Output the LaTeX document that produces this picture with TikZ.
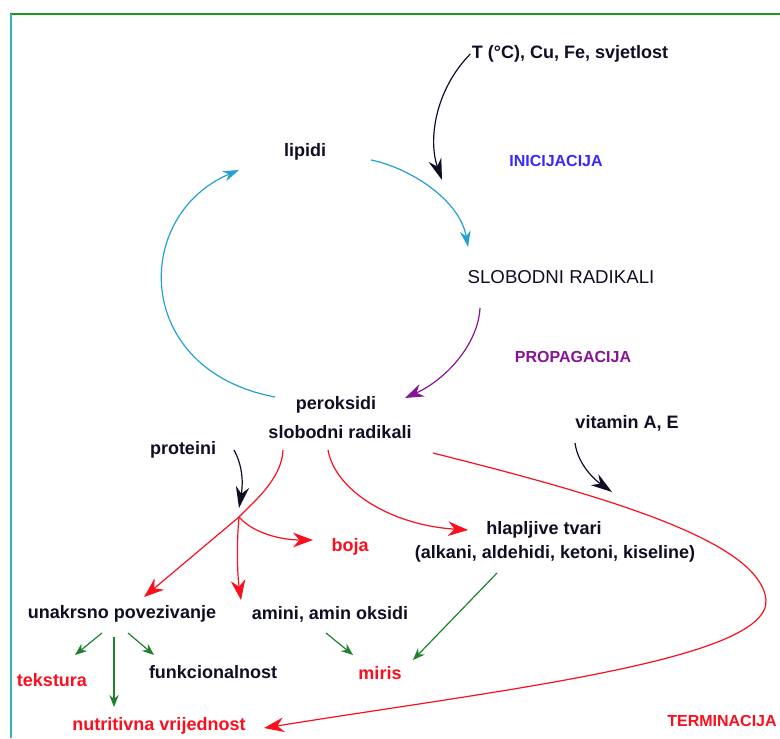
\documentclass[tikz,border=0pt]{standalone}
\usepackage{fontspec}
\setmainfont{Liberation Sans}
\usetikzlibrary{arrows.meta}

\definecolor{ink}{RGB}{15,15,35}
\definecolor{cred}{RGB}{250,15,30}
\definecolor{ccyc}{RGB}{35,160,210}
\definecolor{cpurp}{RGB}{135,20,150}
\definecolor{cblue}{RGB}{55,40,255}
\definecolor{cgreen}{RGB}{30,130,45}
\definecolor{frgreen}{RGB}{30,155,30}
\definecolor{frteal}{RGB}{50,180,180}

\tikzset{
  txt/.style={font=\bfseries\fontsize{13.5}{16}\selectfont, text=ink, inner sep=1pt},
  rtxt/.style={txt, text=cred},
  phase/.style={font=\bfseries\fontsize{12}{14}\selectfont, inner sep=1pt},
  blk/.style={line width=0.9pt, ink, -{Stealth[length=16pt,width=10pt]}},
  cyc/.style={line width=0.9pt, ccyc, -{Stealth[length=12pt,width=8pt]}},
  prp/.style={line width=0.9pt, cpurp, -{Stealth[length=14pt,width=10pt]}},
  red/.style={line width=0.9pt, cred, -{Stealth[length=15pt,width=11pt]}},
  grn/.style={line width=0.9pt, cgreen, -{Stealth[length=9pt,width=7pt]}}
}

\begin{document}
\begin{tikzpicture}[x=0.75pt, y=-0.75pt]
    \useasboundingbox (0,0) rectangle (780,738);
    \draw[line width=1.5pt, frgreen] (10,14.5) -- (780,14.5);
    \draw[line width=1.5pt, frteal] (10.5,14) -- (10.5,738);

    \node[txt] (temp) at (570, 54) {T (°C), Cu, Fe, svjetlost};
    \node[txt] (lipidi) at (305, 152) {lipidi};
    \node[phase, text=cblue] (inic) at (556, 161) {INICIJACIJA};
    \node[font=\fontsize{14}{16}\selectfont, text=ink, inner sep=1pt] (slobrad) at (561, 277) {SLOBODNI RADIKALI};
    \node[phase, text=cpurp] (propag) at (573, 357) {PROPAGACIJA};
    \node[txt] (perok) at (336, 405) {peroksidi};
    \node[txt] (radikali) at (340, 432) {slobodni radikali};
    \node[txt] (vitamin) at (627, 423) {vitamin A, E};
    \node[txt] (proteini) at (183, 450) {proteini};
    \node[rtxt] (boja) at (350, 547) {boja};
    \node[txt] (hlap) at (544, 530) {hlapljive tvari};
    \node[txt] (alk) at (555, 554) {(alkani, aldehidi, ketoni, kiseline)};
    \node[txt] (unak) at (122, 614) {unakrsno povezivanje};
    \node[txt] (amini) at (330, 614) {amini, amin oksidi};
    \node[rtxt] (tekstura) at (52, 680) {tekstura};
    \node[txt] (funkc) at (213, 672) {funkcionalnost};
    \node[rtxt] (miris) at (380, 673) {miris};
    \node[rtxt] (nutri) at (159, 726) {nutritivna vrijednost};
    \node[phase, text=cred] (termin) at (722, 721) {TERMINACIJA};

    \coordinate (initTip) at (442, 180);
    \coordinate (junc) at (239, 517);
    \coordinate (vitTip) at (612, 492);

    \draw[blk] (temp.west) .. controls (435, 90) and (428, 140) .. (initTip);
    \draw[cyc] ([shift={(66,8)}]lipidi.center) .. controls (410, 168) and (460, 200) .. ([shift={(-93,-30)}]slobrad.center);
    \draw[cyc] ([shift={(-61,-8)}]perok.center) .. controls (132, 370) and (132, 215) .. ([shift={(-66,18)}]lipidi.center);
    \draw[prp] ([shift={(-81,31)}]slobrad.center) .. controls (478, 345) and (445, 380) .. ([shift={(69,-7)}]perok.center);

    \draw[blk] ([shift={(51,0)}]proteini.center) .. controls (245, 470) and (242, 490) .. ([shift={(0,-9)}]junc);
    \draw[red] ([shift={(-57,18)}]radikali.center) .. controls (282, 480) and (250, 505) .. (junc) -- ([shift={(22,-17)}]unak.center);
    \draw[red] (junc) .. controls (236, 550) and (238, 580) .. ([shift={(-89,-14)}]amini.center);
    \draw[red] (junc) .. controls (255, 535) and (285, 540) .. ([shift={(-37,-7)}]boja.center);
    \draw[red] ([shift={(-12,18)}]radikali.center) .. controls (335, 490) and (390, 525) .. ([shift={(-76,0)}]hlap.center);
    \draw[red] ([shift={(93,21)}]radikali.center) .. controls (600, 495) and (760, 540) .. (766, 600)
        .. controls (770, 660) and (500, 690) .. ([shift={(105,2)}]nutri.center);
    \draw[blk] ([shift={(-52,20)}]vitamin.center) .. controls (578, 465) and (595, 480) .. (vitTip);

    \draw[grn] ([shift={(-20,19)}]unak.center) -- ([shift={(23,-25)}]tekstura.center);
    \draw[grn] ([shift={(-8,23)}]unak.center) -- ([shift={(-45,-19)}]nutri.center);
    \draw[grn] ([shift={(6,19)}]unak.center) -- ([shift={(-59,-17)}]funkc.center);
    \draw[grn] ([shift={(-4,19)}]amini.center) -- ([shift={(-27,-18)}]miris.center);
    \draw[grn] ([shift={(-58,19)}]alk.center) -- ([shift={(33,-13)}]miris.center);
\end{tikzpicture}
\end{document}
